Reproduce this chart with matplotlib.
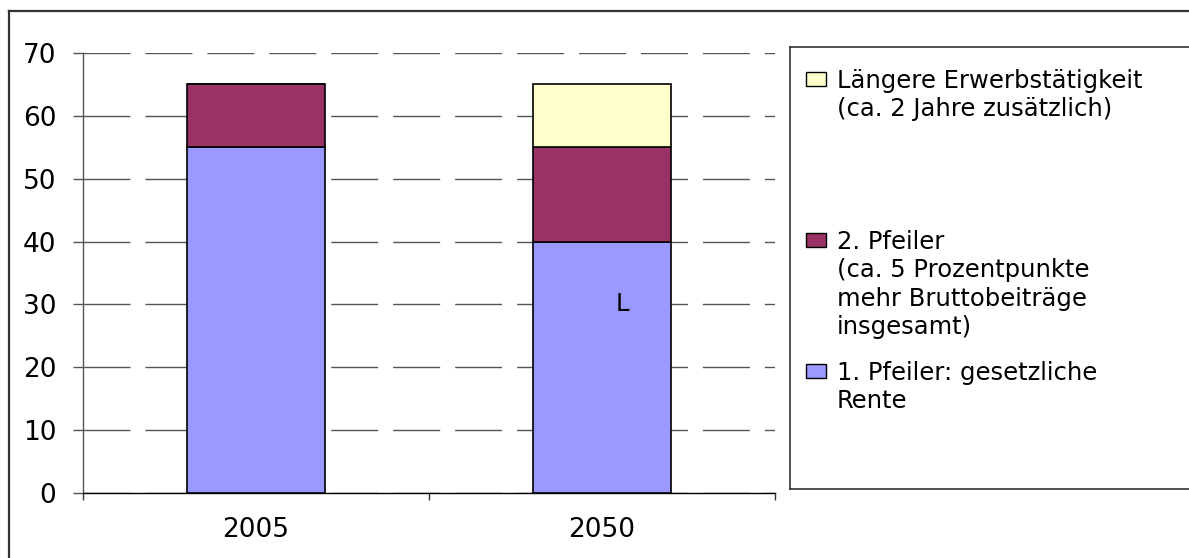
import matplotlib
matplotlib.use("Agg")
import matplotlib.pyplot as plt
from matplotlib.lines import Line2D
from matplotlib.patches import Rectangle

# --- data -------------------------------------------------------------
years = ["2005", "2050"]
pillar1 = [55, 40]          # 1. Pfeiler: gesetzliche Rente
pillar2 = [10, 15]          # 2. Pfeiler
longer_work = [0, 10]       # Längere Erwerbstätigkeit
series_labels = [
    "1. Pfeiler: gesetzliche\nRente",
    "2. Pfeiler\n(ca. 5 Prozentpunkte\nmehr Bruttobeiträge\ninsgesamt)",
    "Längere Erwerbstätigkeit\n(ca. 2 Jahre zusätzlich)",
]
y_ticks = [0, 10, 20, 30, 40, 50, 60, 70]
note_text = "L"
note_pos = (1.06, 30)

colors = ["#9999FF", "#993366", "#FFFFCC"]

plt.rcParams["font.family"] = ["DejaVu Sans"]

W, H = 1189, 558
fig = plt.figure(figsize=(W / 100, H / 100), dpi=100)
fig.patch.set_facecolor("white")


def fx(px):
    return px / W


def fy(py):
    return 1 - py / H


# plot area
ax = fig.add_axes([fx(83), fy(493), fx(775) - fx(83), fy(53) - fy(493)])
x = list(range(len(years)))
bw = 0.4
bottoms = [0] * len(years)
for vals, c in zip([pillar1, pillar2, longer_work], colors):
    ax.bar(x, vals, bw, bottom=bottoms, color=c, edgecolor="black",
           linewidth=1.2, zorder=3)
    bottoms = [b + v for b, v in zip(bottoms, vals)]

tick_fs = 19
ax.set_xlim(-0.5, len(years) - 0.5)
ax.set_ylim(0, 70)
ax.set_yticks(y_ticks)
ax.set_yticklabels([str(t) for t in y_ticks], fontsize=tick_fs)
ax.yaxis.grid(True, linestyle=(0, (33.8, 10.8)), color="#555555",
              linewidth=1.0, zorder=0)
ax.set_axisbelow(True)
ax.tick_params(axis="y", direction="out", length=7.2, width=1.0,
               color="#555555", pad=12)

# category boundaries as major ticks, year labels on minor ticks
ax.set_xticks([i - 0.5 for i in range(len(years) + 1)])
ax.set_xticklabels([])
ax.set_xticks(x, minor=True)
ax.set_xticklabels(years, minor=True, fontsize=tick_fs)
ax.tick_params(axis="x", which="major", direction="out", length=5,
               width=1.0, color="#333333")
ax.tick_params(axis="x", which="minor", length=0, pad=17)

for s in ["top", "right"]:
    ax.spines[s].set_visible(False)
ax.spines["left"].set_color("#555555")
ax.spines["left"].set_linewidth(1.0)
ax.spines["bottom"].set_color("black")
ax.spines["bottom"].set_linewidth(1.0)

ax.text(note_pos[0], note_pos[1], note_text, ha="center", va="center",
        fontsize=17.5, color="black", zorder=4)

# outer chart frame (open to the right and bottom)
frame_kw = dict(color="#333333", linewidth=1.6, transform=fig.transFigure)
fig.add_artist(Line2D([fx(9), 1], [fy(11), fy(11)], **frame_kw))
fig.add_artist(Line2D([fx(9), fx(9)], [fy(11), 0], **frame_kw))

# legend box
box_kw = dict(color="#222222", linewidth=1.1, transform=fig.transFigure)
fig.add_artist(Line2D([fx(790), 1], [fy(47), fy(47)], **box_kw))
fig.add_artist(Line2D([fx(790), fx(790)], [fy(47), fy(489)], **box_kw))
fig.add_artist(Line2D([fx(790), 1], [fy(489), fy(489)], **box_kw))

# legend entries, top to bottom: yellow, maroon, blue
entry_y = [79, 240, 371]
line_step = 28.5
leg_fs = 17.5
cap_px = 0.729 * leg_fs * 100 / 72
for yc, lab, c in zip(entry_y, series_labels[::-1], colors[::-1]):
    fig.add_artist(Rectangle((fx(806), fy(yc + 7)), fx(20), 14 / H,
                             facecolor=c, edgecolor="black", linewidth=1.0,
                             transform=fig.transFigure))
    for i, line in enumerate(lab.split("\n")):
        fig.text(fx(837), fy(yc + i * line_step + cap_px / 2), line,
                 ha="left", va="baseline", fontsize=leg_fs, color="black")

fig.savefig("out.png", dpi=100, facecolor="white")
